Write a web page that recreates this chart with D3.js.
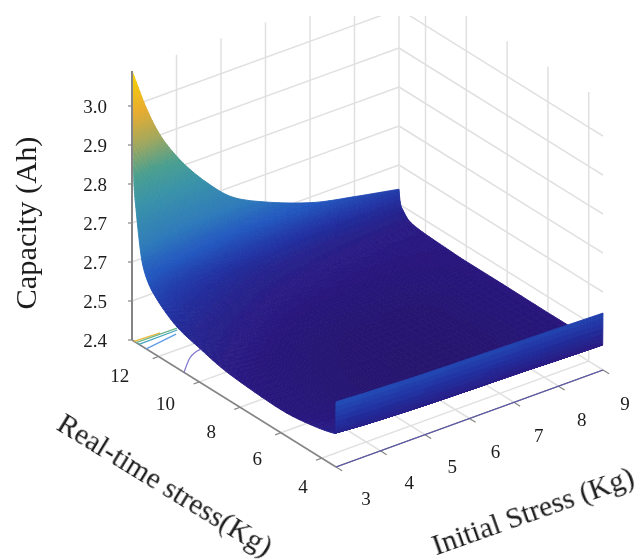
<!DOCTYPE html>
<html lang="en">
<head>
  <meta charset="UTF-8">
  <title>Capacity surface</title>
  <script src="https://d3js.org/d3.v7.min.js"></script>
  <style>
    html, body { margin: 0; padding: 0; background: #fff; }
    text { font-family: "Liberation Serif", serif; fill: #1c1c1c; }
  </style>
</head>
<body>
  <svg id="chart" width="638" height="560"></svg>
  <script>
    // Values
    const initialStress = [3, 3.34, 3.63, 4.08, 4.69, 5.27, 6.03, 7.22, 7.97, 9];
    const realTimeStress = [13.3, 13.27, 13.2, 13.1, 13, 12.8, 12.5, 12, 11, 10, 8.5, 6, 4, 3.4, 3.32, 3.3];
    const capacity = [
      [3.09, 2.976, 2.90, 2.817, 2.733, 2.672, 2.628, 2.579, 2.561, 2.538],
      [2.95, 2.861, 2.80, 2.737, 2.671, 2.624, 2.589, 2.551, 2.537, 2.519],
      [2.80, 2.738, 2.696, 2.651, 2.605, 2.571, 2.547, 2.521, 2.511, 2.498],
      [2.74, 2.688, 2.654, 2.616, 2.578, 2.551, 2.531, 2.509, 2.500, 2.490],
      [2.69, 2.647, 2.619, 2.588, 2.556, 2.533, 2.517, 2.498, 2.492, 2.483],
      [2.615, 2.586, 2.566, 2.545, 2.523, 2.507, 2.496, 2.483, 2.478, 2.473],
      [2.572, 2.550, 2.536, 2.520, 2.504, 2.492, 2.484, 2.475, 2.471, 2.468],
      [2.54, 2.524, 2.513, 2.501, 2.489, 2.480, 2.474, 2.468, 2.466, 2.465],
      [2.503, 2.494, 2.487, 2.480, 2.472, 2.466, 2.462, 2.459, 2.460, 2.462],
      [2.487, 2.480, 2.475, 2.469, 2.462, 2.457, 2.453, 2.452, 2.455, 2.460],
      [2.468, 2.463, 2.460, 2.456, 2.451, 2.447, 2.444, 2.444, 2.449, 2.460],
      [2.459, 2.456, 2.454, 2.450, 2.446, 2.443, 2.441, 2.442, 2.448, 2.459],
      [2.474, 2.470, 2.467, 2.463, 2.458, 2.454, 2.452, 2.452, 2.455, 2.460],
      [2.484, 2.481, 2.478, 2.475, 2.472, 2.470, 2.468, 2.466, 2.464, 2.462],
      [2.487, 2.484, 2.482, 2.480, 2.477, 2.475, 2.473, 2.470, 2.467, 2.464],
      [2.567, 2.565, 2.563, 2.561, 2.558, 2.556, 2.554, 2.551, 2.549, 2.546]
    ];
    const xTicks = [3, 4, 5, 6, 7, 8, 9];
    const yTicks = [12, 10, 8, 6, 4];
    const zTicks = [2.4, 2.5, 2.6, 2.7, 2.8, 2.9, 3.0];
    const zTickLabels = ["2.4", "2.5", "2.7", "2.7", "2.8", "2.9", "3.0"];
    const colorStops = [2.44, 2.47, 2.52, 2.58, 2.65, 2.75, 2.82, 2.90, 2.98, 3.09];
    const colorValues = ["#26146f", "#2a1c84", "#2133a2", "#2458c0", "#2f7cba", "#3a93a8", "#4a9f90", "#a4a85c", "#e8ac30", "#f8d400"];
    // floor contours under the spike, [initial, real-time]
    const contourLines = [
      { color: "#e8b83a", pts: [[3, 13.2], [3.56, 13.14]] },
      { color: "#6fb58a", pts: [[3, 13.1], [3.91, 13.08]] },
      { color: "#45a5c0", pts: [[3, 12.96], [3.87, 12.98]] },
      { color: "#5f9de8", pts: [[3, 12.6], [3.76, 12.8]] },
      { color: "#8078d0", pts: [[3, 10.75], [3.41, 11.36], [3.76, 11.6]] },
      { color: "#5c5aa8", pts: [[3, 3.3], [9, 3.3]] }
    ];

    const svg = d3.select("#chart");
    const defs = svg.append("defs");
    defs.append("filter").attr("id", "soft")
      .append("feGaussianBlur").attr("stdDeviation", 0.6);
    defs.append("clipPath").attr("id", "crop")
      .append("rect").attr("x", 0).attr("y", 16).attr("width", 638).attr("height", 544);

    const root = svg.append("g").attr("filter", "url(#soft)");

    // Oblique projection of the box onto the page
    const xScale = d3.scaleLinear().domain([3, 9]).range([0, 1]);
    const yScale = d3.scaleLinear().domain([13.3, 3.3]).range([0, 1]);
    const zScale = d3.scaleLinear().domain([2.4, 3.1]).range([0, 273]);
    const color = d3.scaleLinear().domain(colorStops).range(colorValues).clamp(true);

    function project(x, y, z) {
      const u = xScale(x), v = yScale(y);
      return [132 + 267 * u + 204 * v, 340 - 97 * u + 127 * v - zScale(z)];
    }
    const line = d3.line();

    // Monotone hermite through a list, t is a fractional index. Only for drawing smooth edges
    function mono(vals, t) {
      const n = vals.length;
      const i = Math.min(Math.floor(t), n - 2), s = t - i;
      const slope = k => (k < 0 || k >= n - 1) ? null : vals[k + 1] - vals[k];
      const tangent = k => {
        const a = slope(k - 1), b = slope(k);
        if (a === null) return b;
        if (b === null) return a;
        return a * b <= 0 ? 0 : 2 * a * b / (a + b);
      };
      const m0 = tangent(i), m1 = tangent(i + 1), p0 = vals[i], p1 = vals[i + 1];
      const s2 = s * s, s3 = s2 * s;
      return (2 * s3 - 3 * s2 + 1) * p0 + (s3 - 2 * s2 + s) * m0 + (-2 * s3 + 3 * s2) * p1 + (s3 - s2) * m1;
    }

    // Walls and floor grid
    const grid = root.append("g").attr("clip-path", "url(#crop)")
      .attr("fill", "none").attr("stroke", "#e0e0e0").attr("stroke-width", 1.5);
    const zTop = 3.09, yBack = 13.3, yFront = 3.3;
    function gridLine(a, b) {
      grid.append("path").attr("d", line([a, b]));
    }
    xTicks.slice(1).forEach(x => {
      gridLine(project(x, yBack, 2.4), project(x, yBack, zTop));
      gridLine(project(x, yBack, 2.4), project(x, yFront, 2.4));
    });
    yTicks.forEach(y => {
      gridLine(project(9, y, 2.4), project(9, y, zTop));
      gridLine(project(3, y, 2.4), project(9, y, 2.4));
    });
    zTicks.slice(1).forEach(z => {
      gridLine(project(3, yBack, z), project(9, yBack, z));
      gridLine(project(9, yBack, z), project(9, yFront, z));
    });

    // Axes
    const axes = root.append("g").attr("fill", "none").attr("stroke", "#858585");
    axes.append("path").attr("stroke-width", 1.6)
      .attr("d", line([project(3, yBack, 2.4), project(3, yFront, 2.4)]));
    axes.append("path").attr("stroke-width", 1.2)
      .attr("d", line([project(3, yFront, 2.4), project(9, yFront, 2.4)]));
    xTicks.forEach(x => axes.append("path").attr("stroke-width", 1.2)
      .attr("d", line([project(x, yFront, 2.4), project(x, yFront - 0.3, 2.4)])));
    yTicks.forEach(y => axes.append("path").attr("stroke-width", 1.2)
      .attr("d", line([project(3, y, 2.4), project(2.87, y, 2.4)])));

    // Floor contours
    const contours = root.append("g").attr("fill", "none").attr("stroke-width", 1.3);
    contourLines.forEach(c => {
      contours.append("path").attr("stroke", c.color)
        .attr("d", d3.line().curve(d3.curveMonotoneX)(c.pts.map(p => project(p[0], p[1], 2.4))));
    });

    // Surface, far cells first, each cell shaded in small pieces
    const surface = root.append("g");
    const steps = 8;
    const bandWidth = 0.004;
    const pt = (ti, tj) => {
      const x = mono(initialStress, ti), y = mono(realTimeStress, tj);
      const z = mono(capacity.map(row => mono(row, ti)), tj);
      return { p: project(x, y, z), z };
    };
    for (let j = 0; j < realTimeStress.length - 1; j++) {
      for (let i = initialStress.length - 2; i >= 0; i--) {
        for (let b = 0; b < steps; b++) {
          for (let a = steps - 1; a >= 0; a--) {
            const c = [pt(i + a / steps, j + b / steps), pt(i + (a + 1) / steps, j + b / steps),
                       pt(i + (a + 1) / steps, j + (b + 1) / steps), pt(i + a / steps, j + (b + 1) / steps)];
            const band = Math.round(d3.mean(c, d => d.z) / bandWidth) * bandWidth;
            const fill = color(band);
            surface.append("path")
              .attr("d", line(c.map(d => d.p)) + "Z")
              .attr("fill", fill).attr("stroke", fill).attr("stroke-width", 0.9);
          }
        }
      }
    }

    // Vertical axis sits over the spike
    const zAxis = root.append("g").attr("fill", "none").attr("stroke", "#858585");
    zAxis.append("path").attr("stroke-width", 2)
      .attr("d", line([project(3, yBack, 2.4), project(3, yBack, zTop)]));
    zTicks.forEach(z => {
      const p = project(3, yBack, z);
      zAxis.append("path").attr("stroke-width", 1.2).attr("d", line([[p[0] - 4, p[1]], p]));
    });

    // Tick labels
    const labels = root.append("g").attr("font-size", 19).attr("text-anchor", "middle");
    zTicks.forEach((z, i) => {
      const p = project(3, yBack, z);
      labels.append("text").attr("x", p[0] - 37).attr("y", p[1] + 7).text(zTickLabels[i]);
    });
    xTicks.forEach(x => {
      const p = project(x, yFront, 2.4), u = xScale(x);
      labels.append("text").attr("x", p[0] + 30 - 8 * u).attr("y", p[1] + 38 + 2 * u).text(x);
    });
    yTicks.forEach(y => {
      const p = project(3, y, 2.4), v = yScale(y);
      labels.append("text").attr("x", p[0] - 42 + 25 * v).attr("y", p[1] + 24 + 12 * v).text(y);
    });

    // Axis titles
    function title(txt, x, y, angle, len) {
      root.append("text").attr("transform", `translate(${x},${y}) rotate(${angle})`)
        .attr("text-anchor", "middle").attr("font-size", 29)
        .attr("textLength", len).attr("lengthAdjust", "spacingAndGlyphs")
        .text(txt);
    }
    title("Capacity (Ah)", 36, 223, -90, 173);
    title("Real-time stress(Kg)", 160, 493, 31.5, 246);
    title("Initial Stress (Kg)", 536, 520, -19.5, 212);
  </script>
</body>
</html>
